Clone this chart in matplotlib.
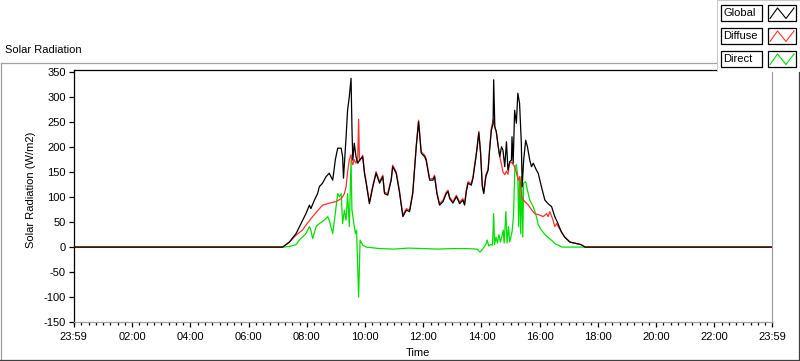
import matplotlib
matplotlib.use("Agg")
import matplotlib.pyplot as plt
from matplotlib.patches import Rectangle
from matplotlib.lines import Line2D

plt.rcParams['font.family'] = ['Liberation Sans', 'DejaVu Sans']
plt.rcParams['axes.unicode_minus'] = False

# ---------------- data (hours of day, W/m2) ----------------
DAY_START = -1 / 60.0
DAY_END = 24 - 1 / 60.0

global_t = [DAY_START, 7.17, 7.40, 7.63, 7.80, 7.97, 8.09, 8.14, 8.26, 8.37, 8.43, 8.54, 8.66, 8.77, 8.83, 8.89,
            8.98, 9.06, 9.18, 9.23, 9.26, 9.35, 9.40, 9.46, 9.52, 9.55, 9.58, 9.63, 9.69, 9.75, 9.81, 9.92,
            9.98, 10.04, 10.15, 10.27, 10.38, 10.50, 10.61, 10.67, 10.78, 10.90, 10.95, 11.07, 11.18, 11.30,
            11.42, 11.53, 11.64, 11.76, 11.84, 11.93, 12.05, 12.10, 12.22, 12.33, 12.39, 12.47, 12.56, 12.68,
            12.79, 12.85, 12.91, 13.02, 13.14, 13.25, 13.36, 13.42, 13.48, 13.54, 13.65, 13.71, 13.83, 13.91,
            13.97, 14.03, 14.08, 14.15, 14.23, 14.28, 14.34, 14.40, 14.42, 14.46, 14.51, 14.57, 14.63, 14.69,
            14.74, 14.80, 14.86, 14.91, 14.97, 15.03, 15.05, 15.09, 15.14, 15.20, 15.25, 15.31, 15.37, 15.40,
            15.45, 15.52, 15.58, 15.66, 15.72, 15.78, 15.89, 15.95, 16.06, 16.18, 16.29, 16.41, 16.52, 16.63,
            16.75, 16.86, 17.04, 17.27, 17.42, 17.56, DAY_END]
global_v = [0, 0, 10, 27, 47, 67, 84, 77, 94, 107, 121, 128, 141, 148, 141, 134,
            175, 198, 198, 181, 138, 221, 274, 301, 338, 241, 174, 208, 181, 168, 174, 181,
            148, 128, 87, 121, 148, 128, 141, 107, 104, 134, 161, 148, 111, 61,
            74, 71, 107, 201, 251, 188, 181, 174, 134, 134, 141, 107, 84, 91,
            107, 111, 97, 88, 101, 87, 94, 84, 111, 128, 124, 138, 188, 229,
            188, 121, 107, 141, 154, 194, 234, 247, 335, 241, 231, 204, 181, 201,
            194, 161, 211, 154, 171, 174, 221, 168, 274, 248, 308, 288, 208, 121,
            174, 214, 201, 174, 161, 168, 154, 148, 121, 94, 87, 81, 61, 47,
            30, 20, 10, 7, 5, 0, 0]

diffuse_t = [DAY_START, 7.17, 7.40, 7.63, 7.85, 8.02, 8.20, 8.36, 8.54, 8.66, 8.84, 9.00, 9.18, 9.22, 9.29,
             9.35, 9.40, 9.46, 9.52, 9.55, 9.58, 9.63, 9.69, 9.75, 9.78, 9.81, 9.87, 9.92, 9.98,
             10.04, 10.15, 10.27, 10.38, 10.50, 10.61, 10.67, 10.78, 10.90, 10.95, 11.07, 11.18, 11.30,
             11.42, 11.53, 11.64, 11.76, 11.84, 11.93, 12.05, 12.10, 12.22, 12.33, 12.39, 12.47, 12.56, 12.68,
             12.79, 12.85, 12.91, 13.02, 13.14, 13.25, 13.36, 13.42, 13.48, 13.54, 13.65, 13.71, 13.83, 13.91,
             13.97, 14.03, 14.08, 14.15, 14.23, 14.28, 14.34, 14.40, 14.46, 14.51, 14.57, 14.63, 14.69,
             14.74, 14.80, 14.86, 14.91, 14.97, 15.03, 15.09, 15.14, 15.20, 15.26, 15.32, 15.38, 15.47,
             15.60, 15.72, 15.83, 16.01, 16.12, 16.24, 16.29, 16.35, 16.46, 16.52, 16.58, 16.64,
             16.75, 16.86, 17.04, 17.27, 17.42, 17.56, DAY_END]
diffuse_v = [0, 0, 10, 24, 34, 48, 61, 72, 84, 86, 89, 91, 97, 100, 107,
             121, 150, 175, 185, 170, 165, 175, 168, 180, 256, 172, 178, 184, 151,
             131, 90, 124, 151, 131, 144, 110, 107, 137, 164, 151, 114, 64,
             77, 74, 110, 204, 254, 191, 184, 177, 137, 137, 144, 110, 87, 94,
             110, 114, 100, 91, 104, 90, 97, 87, 114, 131, 127, 141, 191, 232,
             191, 124, 110, 144, 157, 197, 237, 255, 240, 231, 204, 181, 165,
             150, 145, 152, 146, 168, 170, 165, 161, 150, 134, 141, 100, 92,
             85, 75, 67, 64, 61, 67, 61, 71, 54, 41, 47, 41,
             30, 20, 10, 7, 5, 0, 0]

direct_t = [DAY_START, 7.17, 7.40, 7.63, 7.74, 7.97, 8.09, 8.14, 8.20, 8.32, 8.43, 8.60, 8.72, 8.77, 8.89,
            8.95, 9.06, 9.12, 9.18, 9.23, 9.29, 9.35, 9.40, 9.46, 9.52, 9.55, 9.60, 9.67, 9.71, 9.78,
            9.83, 9.92, 10.04, 10.50, 11.00, 11.50, 12.00, 12.50, 13.00, 13.50, 13.85, 13.95, 14.05, 14.15,
            14.20, 14.25, 14.30, 14.38, 14.42, 14.45, 14.50, 14.55, 14.60, 14.65, 14.70, 14.75, 14.78, 14.84,
            14.88, 14.93, 14.97, 15.05, 15.10, 15.15, 15.20, 15.25, 15.28, 15.31, 15.35, 15.38, 15.42, 15.45,
            15.52, 15.58, 15.66, 15.78, 15.89, 15.95, 16.06, 16.20, 16.40, 16.55, 16.70, 16.78, DAY_END]
direct_v = [0, 0, 1, 5, 14, 27, 41, 34, 17, 41, 47, 54, 61, 54, 27,
            54, 107, 101, 107, 47, 74, 54, 107, 41, 174, 74, 54, 27, 34, -100,
            14, 4, 0, -3, -4, -2, -3, -4, -3, -3, -4, -10, -3, 5,
            14, 2, 5, 4, 67, 5, 20, 8, 25, 10, 20, 34, 8, 71,
            8, 41, 10, 30, 61, 161, 165, 141, 41, 141, 27, 141, 20, 128,
            131, 114, 94, 81, 61, 45, 34, 24, 14, 6, 2, 0, 0]

assert len(global_t) == len(global_v)
assert len(diffuse_t) == len(diffuse_v)
assert len(direct_t) == len(direct_v)

series_names = ["Global", "Diffuse", "Direct"]
series_colors = ["#000000", "#ff3030", "#00e000"]

x_major = [DAY_START, 2, 4, 6, 8, 10, 12, 14, 16, 18, 20, 22, DAY_END]
x_labels = ["23:59", "02:00", "04:00", "06:00", "08:00", "10:00", "12:00", "14:00",
            "16:00", "18:00", "20:00", "22:00", "23:59"]
x_minor = [i * 0.25 for i in range(96)]
y_ticks = [-150, -100, -50, 0, 50, 100, 150, 200, 250, 300, 350]

# ---------------- figure ----------------
W, H = 800, 361
fig = plt.figure(figsize=(W / 100, H / 100), dpi=100)
fig.patch.set_facecolor("white")


def fx(px):
    return px / W


def fy(py):
    return 1 - py / H


# frame overlay (pixel coordinates)
frame = fig.add_axes([0, 0, 1, 1], zorder=0)
frame.set_xlim(0, W)
frame.set_ylim(H, 0)
frame.axis("off")
frame.add_line(Line2D([0.5, 717], [62.5, 62.5], color="#a0a0a0", lw=0.9))
frame.add_line(Line2D([0.5, 0.5], [62.5, 360], color="#a0a0a0", lw=0.9))
frame.add_line(Line2D([0, 800], [360, 360], color="#404040", lw=0.9))
frame.add_line(Line2D([799.3, 799.3], [72, 360], color="#404040", lw=0.9))
frame.text(5, 50, "Solar Radiation", fontsize=8, va="center", ha="left", color="#000000")
frame.text(31, 190, "Solar Radiation (W/m2)", fontsize=8, rotation=90, va="center", ha="center")
frame.text(418, 353, "Time", fontsize=8, va="center", ha="center")

left, right, top, bottom = 73.5, 772.0, 70.3, 322.0
ax = fig.add_axes([fx(left), fy(bottom), fx(right - left), (bottom - top) / H], zorder=2)
ax.set_facecolor("white")

ax.plot(direct_t, direct_v, color=series_colors[2], lw=0.9, zorder=2)
ax.plot(diffuse_t, diffuse_v, color=series_colors[1], lw=0.9, zorder=3)
ax.plot(global_t, global_v, color=series_colors[0], lw=0.9, zorder=4)

ax.set_xlim(DAY_START, DAY_END)
ax.set_ylim(-150, 354)
ax.set_xticks(x_major)
ax.set_xticklabels(x_labels)
ax.set_xticks(x_minor, minor=True)
ax.set_yticks(y_ticks)
ax.set_yticklabels([str(v) for v in y_ticks])
ax.tick_params(axis="both", which="major", direction="out", length=3.5, width=0.9,
               labelsize=8, colors="#000000", pad=2)
ax.tick_params(axis="x", which="major", pad=4)
ax.tick_params(axis="x", which="minor", direction="out", length=2, width=0.9, colors="#000000")
ax.spines["left"].set_color("#000000")
ax.spines["top"].set_color("#000000")
ax.spines["right"].set_color("#a0a0a0")
ax.spines["bottom"].set_color("#a0a0a0")
for s in ax.spines.values():
    s.set_linewidth(0.9)

# legend panel (pixel coordinates)
lg = fig.add_axes([fx(717), fy(72), fx(83), 72 / H], zorder=5)
lg.set_xlim(717, 800)
lg.set_ylim(72, 0)
lg.axis("off")
lg.add_patch(Rectangle((717, 0), 83, 72, facecolor="white", edgecolor="#c8c8c8", lw=0.8))
box_tops = [4, 27, 50]
for name, col, yt in zip(series_names, series_colors, box_tops):
    lg.add_patch(Rectangle((721.5, yt + 0.5), 41, 16.5, facecolor="white", edgecolor="#000000", lw=0.9))
    lg.text(723.5, yt + 8.8, name, fontsize=8, va="center", ha="left", color="#000000")
    lg.add_patch(Rectangle((768, yt + 0.5), 28.5, 16.5, facecolor="white", edgecolor="#000000", lw=0.9))
    lg.add_line(Line2D([770, 777.5, 786, 794], [yt + 14.5, yt + 4, yt + 14.5, yt + 4], color=col, lw=0.8))

fig.savefig("out.png", dpi=100, facecolor="white")
